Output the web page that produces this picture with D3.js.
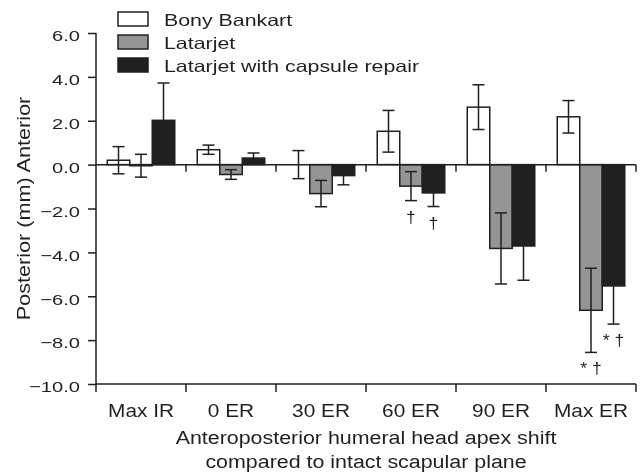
<!DOCTYPE html>
<html>
<head>
<meta charset="utf-8">
<script src="https://cdn.jsdelivr.net/npm/d3@7"></script>
<style>
  body { margin: 0; background: #fff; }
  svg { filter: grayscale(1); }
  text { font-family: "Liberation Sans", Arial, sans-serif; fill: #231f20; }
</style>
</head>
<body>
<div id="chart"></div>
<script>
var categories = ["Max IR", "0 ER", "30 ER", "60 ER", "90 ER", "Max ER"];
var series = ["Bony Bankart", "Latarjet", "Latarjet with capsule repair"];
var colors = ["#ffffff", "#939598", "#231f20"];

var bonyValues = [0.2, 0.68, 0.0, 1.52, 2.62, 2.18];
var bonyErrors = [0.62, 0.21, 0.64, 0.95, 1.02, 0.74];
var latValues = [-0.05, -0.45, -1.32, -0.98, -3.82, -6.64];
var latErrors = [0.52, 0.22, 0.6, 0.66, 1.62, 1.92];
var capValues = [2.02, 0.3, -0.5, -1.29, -3.71, -5.53];
var capErrors = [1.7, 0.23, 0.42, 0.62, 1.56, 1.74];

// significance marks under bars
var latMarks = ["", "", "", "\u2020", "", "* \u2020"];
var capMarks = ["", "", "", "\u2020", "", "* \u2020"];

var yTicks = [-10, -8, -6, -4, -2, 0, 2, 4, 6];

var width = 641, height = 473;
var margin = {top: 33, left: 96, right: 5, bottom: 89};
var ink = "#231f20";

var svg = d3.select("#chart").append("svg")
  .attr("width", width)
  .attr("height", height);

var x0 = d3.scaleBand()
  .domain(categories)
  .range([margin.left, width - margin.right])
  .paddingInner(0.25)
  .paddingOuter(0.125);

var x1 = d3.scaleBand()
  .domain(d3.range(series.length))
  .range([0, x0.bandwidth()]);

var y = d3.scaleLinear()
  .domain([-10, 6])
  .range([height - margin.bottom, margin.top]);

// text in the figure is a bit wider than Liberation Sans, so stretch it
function label(parent, x, yy, str, size, sx, anchor, rot) {
  return parent.append("text")
    .attr("transform", "translate(" + x + "," + yy + ")" + (rot ? " rotate(" + rot + ")" : "") + " scale(" + sx + ",1)")
    .attr("text-anchor", anchor || "start")
    .attr("font-size", size)
    .attr("fill", ink)
    .text(str);
}

var data = [
  {vals: bonyValues, errs: bonyErrors, marks: null},
  {vals: latValues, errs: latErrors, marks: latMarks},
  {vals: capValues, errs: capErrors, marks: capMarks}
];

// category boundaries
var step = x0.step();
var bounds = d3.range(categories.length + 1).map(function(i) {
  return margin.left + i * step;
});

// bars
data.forEach(function(s, si) {
  svg.append("g").selectAll("rect")
    .data(categories)
    .enter().append("rect")
    .attr("x", function(c) { return x0(c) + x1(si); })
    .attr("width", x1.bandwidth())
    .attr("y", function(c, i) { return y(Math.max(0, s.vals[i])); })
    .attr("height", function(c, i) { return Math.abs(y(s.vals[i]) - y(0)); })
    .attr("fill", colors[si])
    .attr("stroke", ink)
    .attr("stroke-width", 1.5);
});

// zero line with small ticks
svg.append("line")
  .attr("x1", margin.left).attr("x2", width - margin.right)
  .attr("y1", y(0)).attr("y2", y(0))
  .attr("stroke", ink).attr("stroke-width", 1.5);
svg.append("g").selectAll("line")
  .data(bounds.slice(1))
  .enter().append("line")
  .attr("x1", function(d) { return d; }).attr("x2", function(d) { return d; })
  .attr("y1", y(0)).attr("y2", y(0) + 7)
  .attr("stroke", ink).attr("stroke-width", 1.5);

// error bars
data.forEach(function(s, si) {
  var g = svg.append("g");
  categories.forEach(function(c, i) {
    var cx = x0(c) + x1(si) + x1.bandwidth() / 2;
    var top = y(s.vals[i] + s.errs[i]);
    var bot = y(s.vals[i] - s.errs[i]);
    g.append("line").attr("x1", cx).attr("x2", cx).attr("y1", top).attr("y2", bot)
      .attr("stroke", ink).attr("stroke-width", 1.5);
    [top, bot].forEach(function(yy) {
      g.append("line").attr("x1", cx - 6).attr("x2", cx + 6).attr("y1", yy).attr("y2", yy)
        .attr("stroke", ink).attr("stroke-width", 1.5);
    });
    if (s.marks && s.marks[i]) {
      label(g, cx, bot + 22, s.marks[i], 16, 1.1, "middle");
    }
  });
});

// y axis
var yAxis = svg.append("g")
  .attr("transform", "translate(" + margin.left + ",0)")
  .call(d3.axisLeft(y).tickValues(yTicks).tickSize(8).tickSizeOuter(0).tickFormat(d3.format(".1f")));
yAxis.select(".domain").remove();
yAxis.selectAll(".tick line").attr("stroke", ink).attr("stroke-width", 1.5);
yAxis.selectAll(".tick text")
  .attr("x", 0).attr("dy", "0.5em")
  .attr("transform", "translate(-16,0) scale(1.3,1)")
  .attr("font-size", 15.5)
  .attr("font-family", "Liberation Sans, Arial, sans-serif")
  .style("fill", ink);
svg.append("line")
  .attr("x1", margin.left).attr("x2", margin.left)
  .attr("y1", y(6)).attr("y2", y(-10) + 8)
  .attr("stroke", ink).attr("stroke-width", 1.5);

// bottom axis
svg.append("line")
  .attr("x1", margin.left).attr("x2", width - margin.right)
  .attr("y1", y(-10)).attr("y2", y(-10))
  .attr("stroke", ink).attr("stroke-width", 1.5);
svg.append("g").selectAll("line")
  .data(bounds.slice(1))
  .enter().append("line")
  .attr("x1", function(d) { return d; }).attr("x2", function(d) { return d; })
  .attr("y1", y(-10)).attr("y2", y(-10) + 8)
  .attr("stroke", ink).attr("stroke-width", 1.5);
var xLabels = svg.append("g");
categories.forEach(function(c) {
  label(xLabels, x0(c) + x0.bandwidth() / 2, y(-10) + 33, c, 17.5, 1.19, "middle");
});

// axis titles
var cx = (margin.left + width - margin.right) / 2;
label(svg, cx, 444, "Anteroposterior humeral head apex shift", 18, 1.19, "middle");
label(svg, cx, 468, "compared to intact scapular plane", 18, 1.19, "middle");
label(svg, 30, (y(6) + y(-10)) / 2, "Posterior (mm) Anterior", 17.6, 1.23, "middle", -90);

// legend
var legend = svg.append("g").attr("transform", "translate(118,12)");
series.forEach(function(name, i) {
  var row = legend.append("g").attr("transform", "translate(0," + (i * 23) + ")");
  row.append("rect").attr("width", 30).attr("height", 14)
    .attr("fill", colors[i]).attr("stroke", ink).attr("stroke-width", 1.5);
  label(row, 46, 14, name, 16.3, 1.31, "start");
});
</script>
</body>
</html>
